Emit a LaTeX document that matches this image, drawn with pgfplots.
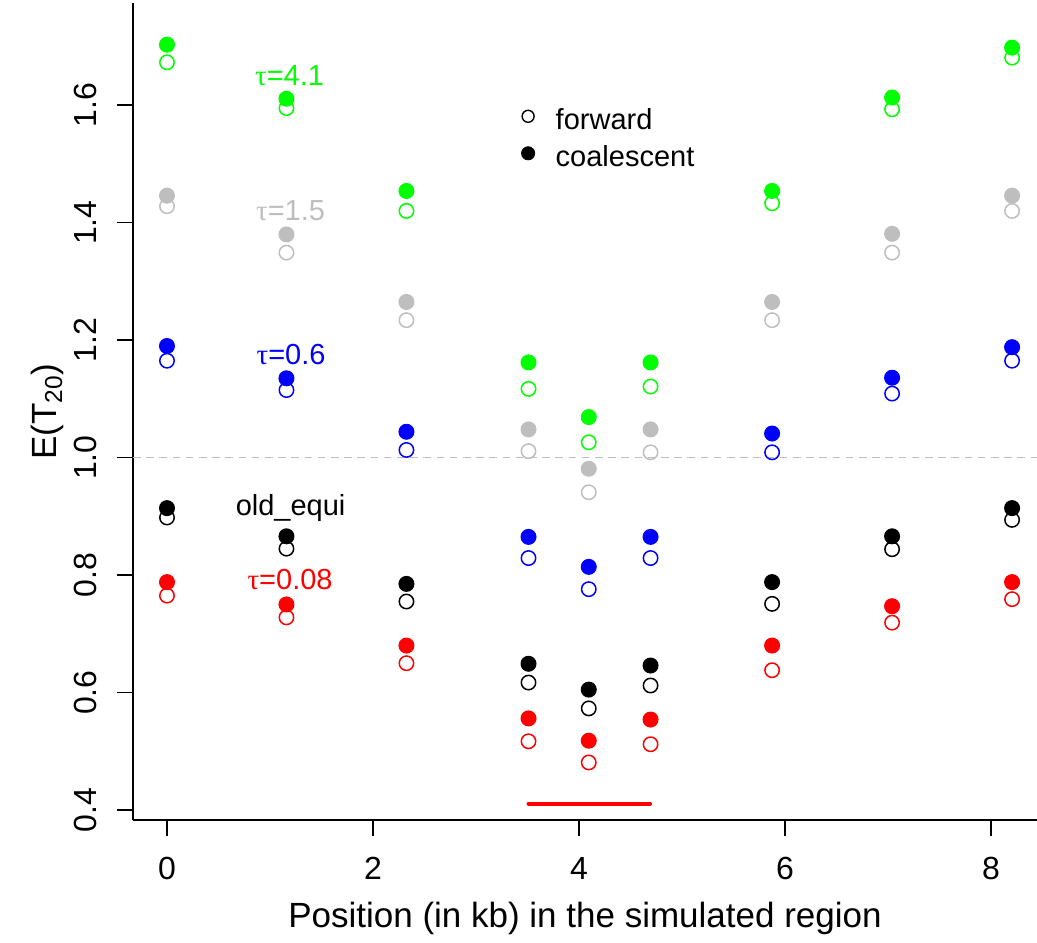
\documentclass[border=0pt]{standalone}
\usepackage{fontspec}
\setmainfont{Liberation Sans}
\newfontfamily\greekfont{Liberation Serif}
\usepackage{pgfplots}
\usepackage{pgfplotstable}
\pgfplotsset{compat=1.18}
\usetikzlibrary{calc}

\definecolor{rgreen}{RGB}{0,255,0}
\definecolor{rgray}{RGB}{190,190,190}
\definecolor{rblue}{RGB}{0,0,255}
\definecolor{rred}{RGB}{255,0,0}

% f = coalescent (filled), o = forward (open)
% g = tau 4.1, s = tau 1.5, b = tau 0.6, k = old_equi, r = tau 0.08
\pgfplotstableread{
x      gf    go    sf    so    bf    bo    kf    ko    rf    ro
0.000  1.703 1.673 1.446 1.428 1.190 1.165 0.914 0.898 0.788 0.765
1.160  1.611 1.595 1.380 1.349 1.135 1.115 0.866 0.845 0.750 0.728
2.325  1.454 1.420 1.265 1.234 1.044 1.013 0.785 0.755 0.680 0.650
3.510  1.162 1.117 1.048 1.011 0.865 0.829 0.649 0.617 0.556 0.517
4.095  1.069 1.026 0.981 0.941 0.814 0.776 0.605 0.573 0.518 0.481
4.695  1.162 1.121 1.048 1.009 0.865 0.829 0.646 0.612 0.554 0.512
5.875  1.454 1.433 1.265 1.234 1.041 1.009 0.788 0.751 0.680 0.638
7.040  1.613 1.593 1.381 1.349 1.136 1.109 0.866 0.844 0.747 0.719
8.205  1.698 1.681 1.446 1.420 1.188 1.165 0.914 0.894 0.788 0.759
}\etdata

\pgfplotsset{
  open/.style={only marks, mark=o, mark size=3.6pt, line width=0.75pt, forget plot},
  full/.style={only marks, mark=*, mark size=3.7pt, line width=0.6pt, forget plot},
}

\begin{document}
\begin{tikzpicture}
\begin{axis}[
  scale only axis, width=452pt, height=408.5pt,
  xmin=-0.330, xmax=8.447, ymin=0.383, ymax=1.774,
  axis x line*=bottom, axis y line*=left,
  x axis line style={-, line width=1pt},
  y axis line style={-, line width=1pt},
  xtick={0,2,4,6,8}, ytick={0.4,0.6,0.8,1.0,1.2,1.4,1.6},
  tick align=outside, major tick length=8pt,
  tick style={black, line width=0.75pt},
  /pgf/number format/assume math mode=true,
  yticklabel={\pgfmathprintnumber[fixed,fixed zerofill,precision=1]{\tick}},
  tick label style={font=\fontsize{16}{19}\selectfont},
  xticklabel style={anchor=north, inner sep=0pt, yshift=-10.5pt},
  yticklabel style={xshift=-10pt, rotate=90, anchor=south, inner sep=0pt},
  every axis x label/.style={at={(axis description cs:0.5,0)}, anchor=base, yshift=-53.5pt, font=\fontsize{17.5}{21}\selectfont},
  every axis y label/.style={at={(axis description cs:0,0.5)}, xshift=-38pt, rotate=90, anchor=base, font=\fontsize{17.5}{21}\selectfont},
  xlabel={Position (in kb) in the simulated region},
  ylabel={E(T\textsubscript{20})},
  legend style={draw=none, fill=none, at={(axis cs:3.38,1.608)}, anchor=north west,
    font=\fontsize{14.5}{17}\selectfont, row sep=2.5pt,
    /tikz/every odd column/.style={column sep=8.5pt}},
  legend cell align=left,
  legend image code/.code={\draw[#1] plot coordinates {(0pt,2.3pt)};},
]
\addlegendimage{black, mark=o, mark size=3pt, line width=0.7pt}
\addlegendentry{forward}
\addlegendimage{black, mark=*, mark size=3.3pt}
\addlegendentry{coalescent}

\addplot[forget plot, rgray, line width=0.6pt, dash pattern=on 3.8pt off 2.8pt] coordinates {(-0.330,1) (8.447,1)};
\addplot[forget plot, rred, line width=2pt, line cap=round] coordinates {(3.51,0.411) (4.69,0.411)};

\addplot[open, rgreen] table[x=x, y=go]{\etdata};
\addplot[full, rgreen] table[x=x, y=gf]{\etdata};
\addplot[open, rgray] table[x=x, y=so]{\etdata};
\addplot[full, rgray] table[x=x, y=sf]{\etdata};
\addplot[open, rblue] table[x=x, y=bo]{\etdata};
\addplot[full, rblue] table[x=x, y=bf]{\etdata};
\addplot[open, black] table[x=x, y=ko]{\etdata};
\addplot[full, black] table[x=x, y=kf]{\etdata};
\addplot[open, rred] table[x=x, y=ro]{\etdata};
\addplot[full, rred] table[x=x, y=rf]{\etdata};

\begin{scope}[every node/.style={anchor=base, font=\fontsize{14.5}{17}\selectfont}]
\node[text=rgreen] at (axis cs:1.19,1.633) {{\greekfont τ}=4.1};
\node[text=rgray]  at (axis cs:1.20,1.404) {{\greekfont τ}=1.5};
\node[text=rblue]  at (axis cs:1.205,1.159) {{\greekfont τ}=0.6};
\node[text=black]  at (axis cs:1.20,0.902) {old\_equi};
\node[text=rred]   at (axis cs:1.195,0.776) {{\greekfont τ}=0.08};
\end{scope}
\end{axis}
\pgfresetboundingbox
\path[use as bounding box] ($(current axis.south west)+(-66.5pt,-61pt)$) rectangle ($(current axis.north east)+(0pt,1.5pt)$);
\end{tikzpicture}
\end{document}
